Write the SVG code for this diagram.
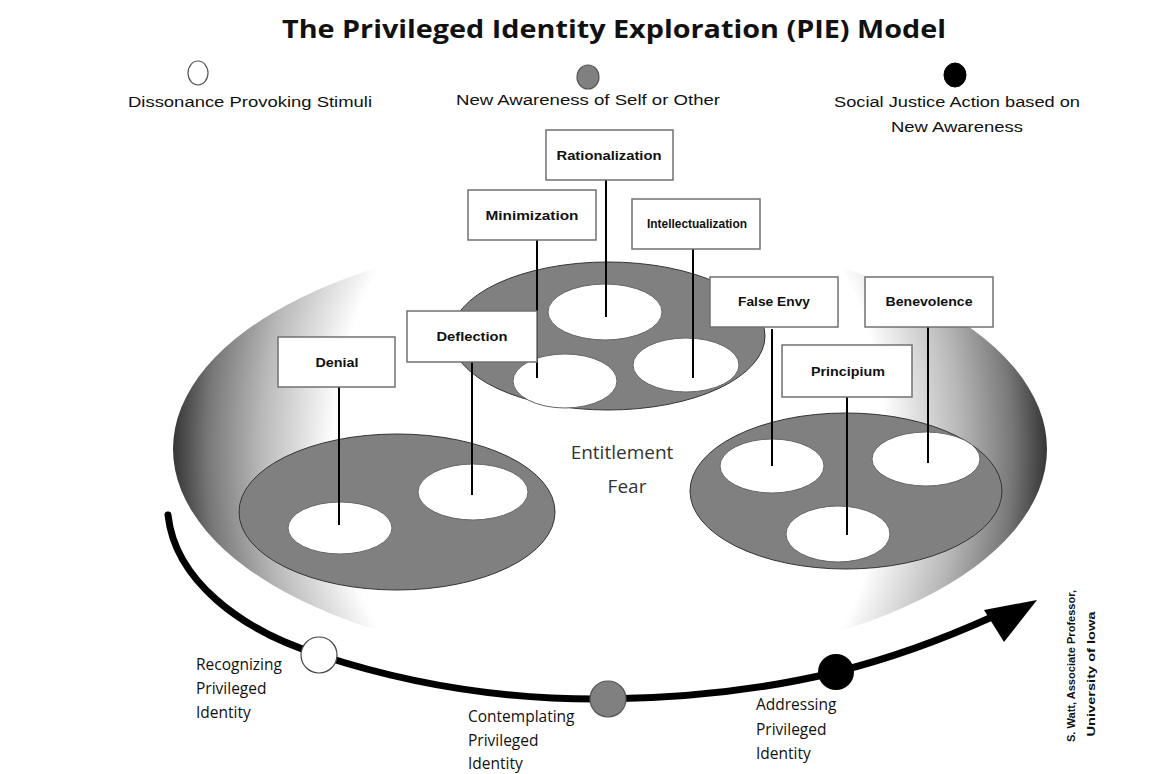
<svg xmlns="http://www.w3.org/2000/svg" width="1152" height="774" viewBox="0 0 1152 774">
  <defs>
    <!-- side shading of the bowl: taller than wide so only the left and right rims darken -->
    <radialGradient id="bowl" gradientUnits="userSpaceOnUse" cx="610" cy="449" r="437" gradientTransform="translate(610 449) scale(1 1.2) translate(-610 -449)">
      <stop offset="0.63" stop-color="#ffffff"/>
      <stop offset="0.8" stop-color="#b8b8b8"/>
      <stop offset="0.92" stop-color="#787878"/>
      <stop offset="1" stop-color="#363636"/>
    </radialGradient>
    <style>
      .plate { fill: #808080; stroke: #333; stroke-width: 1; }
      .hole { fill: #ffffff; stroke: #666; stroke-width: 1; }
      .box { fill: #ffffff; stroke: #707070; stroke-width: 1.5; }
      .stem { stroke: #000; stroke-width: 2; }
      .lbl { font-family: "Liberation Sans", Arial, sans-serif; font-weight: bold; font-size: 13px; fill: #111; text-anchor: middle; }
      .legend { font-family: "Liberation Sans", Arial, sans-serif; font-size: 15.5px; fill: #111; text-anchor: middle; }
      .stage { font-family: "Open Sans", "Liberation Sans", sans-serif; font-size: 15.5px; fill: #111; }
      .center { font-family: "Open Sans", "Liberation Sans", sans-serif; font-size: 19px; fill: #333; text-anchor: middle; }
    </style>
  </defs>

  <rect width="1152" height="774" fill="#ffffff"/>

  <!-- title -->
  <text x="614" y="38" text-anchor="middle" font-family="Open Sans, Liberation Sans, sans-serif" font-weight="bold" font-size="25px" fill="#111" textLength="664" lengthAdjust="spacingAndGlyphs">The Privileged Identity Exploration (PIE) Model</text>

  <!-- legend -->
  <g id="legend">
    <ellipse cx="198" cy="73" rx="10" ry="12" fill="#fff" stroke="#555" stroke-width="1.2"/>
    <text class="legend" x="250" y="107" textLength="244" lengthAdjust="spacingAndGlyphs">Dissonance Provoking Stimuli</text>
    <ellipse cx="588" cy="77" rx="11" ry="12" fill="#808080" stroke="#555" stroke-width="1.2"/>
    <text class="legend" x="588" y="105" textLength="264" lengthAdjust="spacingAndGlyphs">New Awareness of Self or Other</text>
    <ellipse cx="955" cy="75" rx="11" ry="12" fill="#000" stroke="#000" stroke-width="1"/>
    <text class="legend" x="957" y="107" textLength="246" lengthAdjust="spacingAndGlyphs">Social Justice Action based on</text>
    <text class="legend" x="957" y="132" textLength="132" lengthAdjust="spacingAndGlyphs">New Awareness</text>
  </g>

  <!-- shaded bowl -->
  <ellipse id="bowl-shape" cx="610" cy="449" rx="437" ry="214" fill="url(#bowl)"/>

  <!-- plates with their stations -->
  <g id="plate-middle">
    <ellipse class="plate" cx="608" cy="336" rx="157" ry="74"/>
    <ellipse class="hole" cx="605" cy="312" rx="57" ry="28"/>
    <ellipse class="hole" cx="565" cy="381" rx="52" ry="27"/>
    <ellipse class="hole" cx="686" cy="365" rx="53" ry="27"/>
  </g>
  <g id="plate-left">
    <ellipse class="plate" cx="397" cy="512" rx="158" ry="78"/>
    <ellipse class="hole" cx="340" cy="528" rx="52" ry="26"/>
    <ellipse class="hole" cx="473" cy="492" rx="55" ry="28"/>
  </g>
  <g id="plate-right">
    <ellipse class="plate" cx="846" cy="491" rx="156" ry="78"/>
    <ellipse class="hole" cx="772" cy="466" rx="52" ry="27"/>
    <ellipse class="hole" cx="926" cy="459" rx="54" ry="27"/>
    <ellipse class="hole" cx="838" cy="534" rx="52" ry="28"/>
  </g>

  <text class="center" x="622" y="459">Entitlement</text>
  <text class="center" x="627" y="493">Fear</text>

  <!-- stems from labels down to stations -->
  <g id="connectors">
    <line class="stem" x1="606" y1="180" x2="606" y2="317"/>
    <line class="stem" x1="537" y1="240" x2="537" y2="378"/>
    <line class="stem" x1="693" y1="249" x2="693" y2="378"/>
    <line class="stem" x1="772" y1="329" x2="772" y2="466"/>
    <line class="stem" x1="928" y1="327" x2="928" y2="463"/>
    <line class="stem" x1="847" y1="397" x2="847" y2="535"/>
    <line class="stem" x1="339" y1="387" x2="339" y2="525"/>
    <line class="stem" x1="472" y1="362" x2="472" y2="495"/>
  </g>

  <g id="node-rationalization">
    <rect class="box" x="546" y="130" width="127" height="50"/>
    <text class="lbl" x="609" y="160" textLength="105" lengthAdjust="spacingAndGlyphs">Rationalization</text>
  </g>
  <g id="node-minimization">
    <rect class="box" x="468" y="190" width="128" height="50"/>
    <text class="lbl" x="532" y="220" textLength="93" lengthAdjust="spacingAndGlyphs">Minimization</text>
  </g>
  <g id="node-intellectualization">
    <rect class="box" x="632" y="199" width="128" height="50"/>
    <text class="lbl" x="697" y="228" font-weight="normal" font-size="10.5px" textLength="100" lengthAdjust="spacingAndGlyphs">Intellectualization</text>
  </g>
  <g id="node-false-envy">
    <rect class="box" x="710" y="277" width="128" height="50"/>
    <text class="lbl" x="774" y="306" textLength="72" lengthAdjust="spacingAndGlyphs">False Envy</text>
  </g>
  <g id="node-benevolence">
    <rect class="box" x="865" y="277" width="128" height="50"/>
    <text class="lbl" x="929" y="306" textLength="87" lengthAdjust="spacingAndGlyphs">Benevolence</text>
  </g>
  <g id="node-principium">
    <rect class="box" x="782" y="345" width="130" height="52"/>
    <text class="lbl" x="848" y="376" textLength="74" lengthAdjust="spacingAndGlyphs">Principium</text>
  </g>
  <g id="node-denial">
    <rect class="box" x="278" y="337" width="117" height="50"/>
    <text class="lbl" x="337" y="367" textLength="43" lengthAdjust="spacingAndGlyphs">Denial</text>
  </g>
  <g id="node-deflection">
    <rect class="box" x="407" y="311" width="130" height="51"/>
    <text class="lbl" x="472" y="341" textLength="71" lengthAdjust="spacingAndGlyphs">Deflection</text>
  </g>

  <!-- developmental path -->
  <g id="path-arrow">
    <path d="M168,515 C175,580 240,630 320,655 C420,688 520,700 607,699 C690,698 770,688 836,672 C900,656 950,636 992,617" fill="none" stroke="#000" stroke-width="7" stroke-linecap="round"/>
    <polygon points="1037,600 984,610 1004,642" fill="#000"/>
  </g>

  <g id="stage-recognizing">
    <circle cx="319" cy="655" r="18" fill="#fff" stroke="#444" stroke-width="1.2"/>
    <text class="stage" x="196" y="670">Recognizing</text>
    <text class="stage" x="196" y="694">Privileged</text>
    <text class="stage" x="196" y="718">Identity</text>
  </g>
  <g id="stage-contemplating">
    <circle cx="608" cy="699" r="18" fill="#808080" stroke="#555" stroke-width="1.2"/>
    <text class="stage" x="468" y="722">Contemplating</text>
    <text class="stage" x="468" y="746">Privileged</text>
    <text class="stage" x="468" y="769">Identity</text>
  </g>
  <g id="stage-addressing">
    <circle cx="836" cy="672" r="18" fill="#000"/>
    <text class="stage" x="756" y="710">Addressing</text>
    <text class="stage" x="756" y="735">Privileged</text>
    <text class="stage" x="756" y="759">Identity</text>
  </g>

  <!-- author credit -->
  <g id="credit" font-family="Liberation Sans, Arial, sans-serif" font-weight="bold" font-size="11px" fill="#111" text-anchor="middle">
    <text transform="translate(1075 666) rotate(-90)" textLength="152" lengthAdjust="spacingAndGlyphs">S. Watt, Associate Professor,</text>
    <text transform="translate(1095 674) rotate(-90)" textLength="125" lengthAdjust="spacingAndGlyphs">University of Iowa</text>
  </g>
</svg>
